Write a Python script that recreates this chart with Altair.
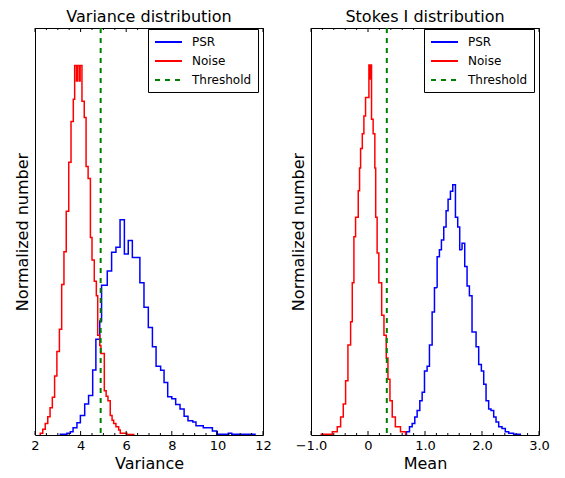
import altair as alt
import pandas as pd

FONT = "DejaVu Sans"

SERIES = ["PSR", "Noise", "Threshold"]
COLORS = ["#0000ff", "#ff0000", "#008000"]
DASHES = [[1, 0], [1, 0], [5, 5]]

# ---- Variance distribution (left) ----
var_psr_edges = [3.11, 3.40, 3.55, 3.67, 3.84, 3.99, 4.18, 4.35, 4.53, 4.67,
                 4.84, 4.92, 5.17, 5.36, 5.55, 5.73, 5.92, 6.09, 6.27, 6.60,
                 6.78, 6.97, 7.15, 7.31, 7.51, 7.66, 7.82, 8.00, 8.17, 8.36,
                 8.54, 8.71, 8.92, 9.06, 9.38, 9.78, 9.97, 10.48, 10.63, 11.65]
var_psr_heights = [0.002, 0.004, 0.008, 0.018, 0.03, 0.048, 0.076, 0.097, 0.16, 0.235,
                   0.28, 0.368, 0.403, 0.449, 0.461, 0.529, 0.445, 0.478, 0.436, 0.374,
                   0.314, 0.264, 0.217, 0.169, 0.159, 0.129, 0.094, 0.089, 0.075, 0.064,
                   0.046, 0.035, 0.032, 0.023, 0.018, 0.010, 0.002, 0.004, 0.002]

var_noise_edges = [2.23, 2.34, 2.45, 2.56, 2.66, 2.76, 2.86, 2.96, 3.07, 3.17,
                   3.27, 3.37, 3.48, 3.58, 3.68, 3.74, 3.82, 3.86, 3.94, 3.98,
                   4.06, 4.16, 4.24, 4.33, 4.43, 4.50, 4.60, 4.69, 4.75, 4.84,
                   4.89, 5.04, 5.12, 5.20, 5.30, 5.38, 5.45, 5.55, 5.67, 5.74,
                   6.03, 6.33]
var_noise_heights = [0.004, 0.014, 0.028, 0.045, 0.067, 0.093, 0.145, 0.205, 0.26, 0.37,
                     0.45, 0.55, 0.67, 0.77, 0.825, 0.908, 0.87, 0.908, 0.87, 0.908,
                     0.82, 0.78, 0.66, 0.63, 0.485, 0.43, 0.378, 0.342, 0.245, 0.22,
                     0.20, 0.109, 0.095, 0.084, 0.048, 0.036, 0.028, 0.02, 0.012, 0.004,
                     0.001]
var_threshold = 4.88
var_major_ticks = [2, 4, 6, 8, 10, 12]
var_minor_ticks = [2.5, 3, 3.5, 4.5, 5, 5.5, 6.5, 7, 7.5, 8.5, 9, 9.5, 10.5, 11, 11.5]

# ---- Stokes I distribution (right) ----
st_psr_edges = [0.675, 0.728, 0.775, 0.821, 0.862, 0.909, 0.950, 0.991, 1.037, 1.078,
                1.125, 1.166, 1.213, 1.253, 1.288, 1.329, 1.370, 1.405, 1.446, 1.487,
                1.534, 1.574, 1.609, 1.650, 1.697, 1.738, 1.779, 1.825, 1.896, 1.942,
                1.989, 2.030, 2.071, 2.117, 2.158, 2.205, 2.246, 2.293, 2.351, 2.409,
                2.468, 2.555, 2.672]
st_psr_heights = [0.008, 0.020, 0.028, 0.044, 0.060, 0.084, 0.105, 0.157, 0.169, 0.221,
                  0.302, 0.362, 0.438, 0.455, 0.479, 0.511, 0.551, 0.579, 0.599, 0.615,
                  0.535, 0.511, 0.455, 0.471, 0.414, 0.366, 0.342, 0.253, 0.217, 0.173,
                  0.157, 0.125, 0.084, 0.064, 0.060, 0.044, 0.032, 0.020, 0.016, 0.008,
                  0.004, 0.002]

st_noise_edges = [-0.82, -0.626, -0.539, -0.48, -0.434, -0.393, -0.352, -0.305, -0.276, -0.247,
                  -0.218, -0.171, -0.148, -0.13, -0.10, -0.072, -0.043, 0.016, 0.035, 0.045,
                  0.062, 0.09, 0.12, 0.135, 0.16, 0.19, 0.24, 0.28, 0.32, 0.35,
                  0.385, 0.425, 0.48, 0.57, 0.66]
st_noise_heights = [0.002, 0.008, 0.02, 0.044, 0.076, 0.133, 0.221, 0.278, 0.374, 0.487,
                    0.535, 0.60, 0.656, 0.704, 0.74, 0.784, 0.829, 0.909, 0.875, 0.909,
                    0.776, 0.74, 0.656, 0.535, 0.447, 0.374, 0.294, 0.245, 0.189, 0.137,
                    0.084, 0.044, 0.02, 0.008]
st_threshold = 0.33
st_major_ticks = [-1, 0, 1, 2, 3]
st_minor_ticks = [-0.8, -0.6, -0.4, -0.2, 0.2, 0.4, 0.6, 0.8, 1.2, 1.4, 1.6, 1.8,
                  2.2, 2.4, 2.6, 2.8]

PLOT_W = 228
PLOT_H = 407


def step_rows(edges, heights, series):
    rows = [{"x": edges[0], "y": 0.0, "series": series, "i": 0}]
    for k, h in enumerate(heights):
        rows.append({"x": edges[k], "y": h, "series": series, "i": k + 1})
    n = len(heights)
    rows.append({"x": edges[-1], "y": heights[-1], "series": series, "i": n + 1})
    rows.append({"x": edges[-1], "y": 0.0, "series": series, "i": n + 2})
    return rows


def panel(title, xtitle, psr_e, psr_h, noise_e, noise_h, thr, xdom, major, minor, label_expr):
    hist = pd.DataFrame(step_rows(psr_e, psr_h, "PSR") + step_rows(noise_e, noise_h, "Noise"))
    xs = alt.Scale(domain=xdom, nice=False, zero=False)
    ys = alt.Scale(domain=[0, 1], nice=False, zero=True)
    xaxis = alt.Axis(values=major, labelExpr=label_expr, title=xtitle, labelFlush=False,
                     labelOverlap=False, labelBound=False)
    X = alt.X("x:Q", scale=xs, axis=xaxis)
    leg = alt.Legend(title=None, orient="none", legendX=113, legendY=1,
                     strokeColor="black", fillColor="white", padding=6, rowPadding=6,
                     symbolType="M-1,0H3.5", symbolSize=144, symbolStrokeWidth=2,
                     labelFontSize=12, labelFont=FONT, labelColor="black",
                     labelOffset=24, cornerRadius=0)
    color = alt.Color("series:N", scale=alt.Scale(domain=SERIES, range=COLORS), legend=leg)
    dash = alt.StrokeDash("series:N", scale=alt.Scale(domain=SERIES, range=DASHES), legend=leg)

    lines = alt.Chart(hist).mark_line(interpolate="step-after", strokeWidth=1.5).encode(
        x=X,
        y=alt.Y("y:Q", scale=ys,
                axis=alt.Axis(title="Normalized number", labels=False, ticks=False,
                              domain=False, grid=False, titlePadding=5)),
        color=color,
        strokeDash=dash,
        order="i:Q",
    )
    thr_rule = alt.Chart(pd.DataFrame({"x": [thr], "series": ["Threshold"]})).mark_rule(
        strokeWidth=2).encode(x=X, color=color, strokeDash=dash)

    maj = pd.DataFrame({"x": major})
    mnr = pd.DataFrame({"x": minor})
    tick_layers = []
    for df, ln in ((maj, 4), (mnr, 2)):
        tick_layers.append(alt.Chart(df).mark_rule(color="black", strokeWidth=1).encode(
            x=X, y=alt.value(PLOT_H), y2=alt.value(PLOT_H - ln)))
        tick_layers.append(alt.Chart(df).mark_rule(color="black", strokeWidth=1).encode(
            x=X, y=alt.value(0), y2=alt.value(ln)))

    return alt.layer(lines, thr_rule, *tick_layers).properties(
        width=PLOT_W, height=PLOT_H,
        title=alt.Title(title, fontSize=16, font=FONT, fontWeight="normal",
                        anchor="middle", offset=2, color="black"),
    )


left = panel("Variance distribution", "Variance",
             var_psr_edges, var_psr_heights, var_noise_edges, var_noise_heights,
             var_threshold, [2, 12], var_major_ticks, var_minor_ticks,
             "format(datum.value, 'd')")
right = panel("Stokes I distribution", "Mean",
              st_psr_edges, st_psr_heights, st_noise_edges, st_noise_heights,
              st_threshold, [-1, 3], st_major_ticks, st_minor_ticks,
              "datum.value == 0 ? '0' : format(datum.value, '.1f')")

chart = alt.hconcat(left, right, spacing=17).resolve_scale(
    color="independent", strokeDash="independent"
).resolve_legend(
    color="independent", strokeDash="independent"
).properties(
    padding={"left": 5, "top": 0, "right": 5, "bottom": 0}
).configure_view(
    stroke="black", strokeWidth=1
).configure_axis(
    labelFont=FONT, labelFontSize=13, labelColor="black",
    titleFont=FONT, titleFontSize=16, titleFontWeight="normal", titleColor="black",
    grid=False, domain=False, ticks=False, tickSize=0, labelPadding=4, titlePadding=3,
)

chart.save("out.html", embed_options={"renderer": "svg", "actions": False})
